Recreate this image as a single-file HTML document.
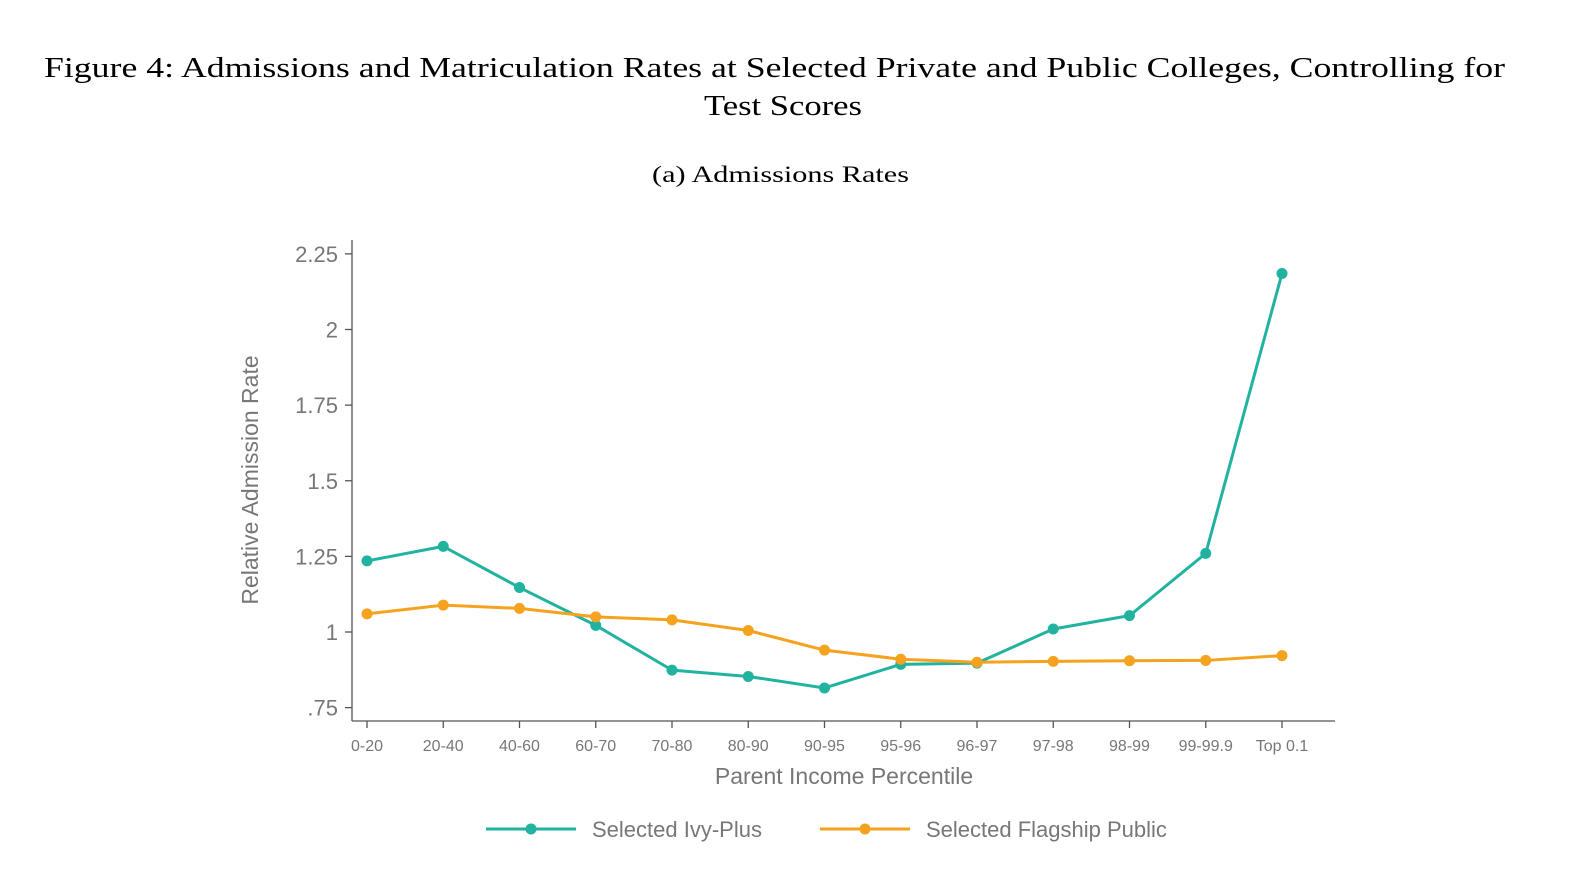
<!DOCTYPE html>
<html><head><meta charset="utf-8"><style>
body{margin:0;background:#fff;width:1581px;height:892px;overflow:hidden}
svg{display:block}
.serif{font-family:"Liberation Serif",serif;fill:#000}
.sans{font-family:"Liberation Sans",sans-serif;fill:#777}
</style></head><body>
<svg id="c" width="1581" height="892">
<text class="serif" x="44" y="77" font-size="28" textLength="1461" lengthAdjust="spacingAndGlyphs">Figure 4: Admissions and Matriculation Rates at Selected Private and Public Colleges, Controlling for</text>
<text class="serif" x="704" y="115" font-size="28" textLength="158" lengthAdjust="spacingAndGlyphs">Test Scores</text>
<text class="serif" x="652" y="182" font-size="23" textLength="257" lengthAdjust="spacingAndGlyphs">(a) Admissions Rates</text>
<g id="axes"></g>
<g id="series"></g>
<text class="sans" x="844" y="784" font-size="23" text-anchor="middle">Parent Income Percentile</text>
<text class="sans" transform="translate(258,480) rotate(-90)" font-size="23" text-anchor="middle">Relative Admission Rate</text>
<g>
<g>
<line x1="486" y1="829" x2="576" y2="829" stroke="#22b3a0" stroke-width="3"/><circle cx="531" cy="829" r="5.5" fill="#22b3a0"/>
<text class="sans" x="592" y="837" font-size="22">Selected Ivy-Plus</text></g>
<g>
<line x1="820" y1="829" x2="910" y2="829" stroke="#f5a21f" stroke-width="3"/><circle cx="865" cy="829" r="5.5" fill="#f5a21f"/>
<text class="sans" x="926" y="837" font-size="22">Selected Flagship Public</text></g>
</g>
</svg>
<script>
const categories=["0-20","20-40","40-60","60-70","70-80","80-90","90-95","95-96","96-97","97-98","98-99","99-99.9","Top 0.1"];
const ivyPlus=[1.235,1.283,1.147,1.022,0.874,0.853,0.815,0.893,0.897,1.010,1.054,1.260,2.185];
const flagship=[1.060,1.089,1.078,1.050,1.040,1.005,0.940,0.910,0.900,0.903,0.905,0.906,0.922];
const yTicks=[0.75,1,1.25,1.5,1.75,2,2.25];
const yTickLabels=[".75","1","1.25","1.5","1.75","2","2.25"];
const NS="http://www.w3.org/2000/svg";
const x=i=>367+i*(1282-367)/(categories.length-1);
const y=v=>632-(v-1)*302.5;
function mk(tag,attrs,parent){const e=document.createElementNS(NS,tag);for(const k in attrs)e.setAttribute(k,attrs[k]);parent.appendChild(e);return e;}
const ax=document.getElementById('axes');
let e=mk('line',{x1:352,y1:240,x2:352,y2:721,stroke:'#555','stroke-width':1.3},ax);


e=mk('line',{x1:352,y1:721,x2:1335,y2:721,stroke:'#555','stroke-width':1.3},ax);


yTicks.forEach((t,i)=>{
 mk('line',{x1:345,x2:352,y1:y(t),y2:y(t),stroke:'#555','stroke-width':1.3},ax);
 const tx=mk('text',{x:338,y:y(t)+8,'font-size':22,'text-anchor':'end',class:'sans'},ax);
 tx.textContent=yTickLabels[i];
 
 
});
categories.forEach((c,i)=>{
 mk('line',{x1:x(i),x2:x(i),y1:721,y2:728,stroke:'#555','stroke-width':1.3},ax);
 const tx=mk('text',{x:x(i),y:751,'font-size':16,'text-anchor':'middle',class:'sans'},ax);
 tx.textContent=c;
 
 
});
const sg=document.getElementById('series');
function draw(vals,color,name){
 const g=mk('g',{},sg);
 
 
 mk('polyline',{points:vals.map((v,i)=>x(i)+','+y(v)).join(' '),fill:'none',stroke:color,'stroke-width':3,'stroke-linejoin':'round'},g);
 vals.forEach((v,i)=>{
  const p=mk('circle',{cx:x(i),cy:y(v),r:5.5,fill:color},g);
  
  
 });
}
draw(ivyPlus,'#22b3a0','ivy-plus-series');
draw(flagship,'#f5a21f','flagship-series');
</script>
</body></html>
